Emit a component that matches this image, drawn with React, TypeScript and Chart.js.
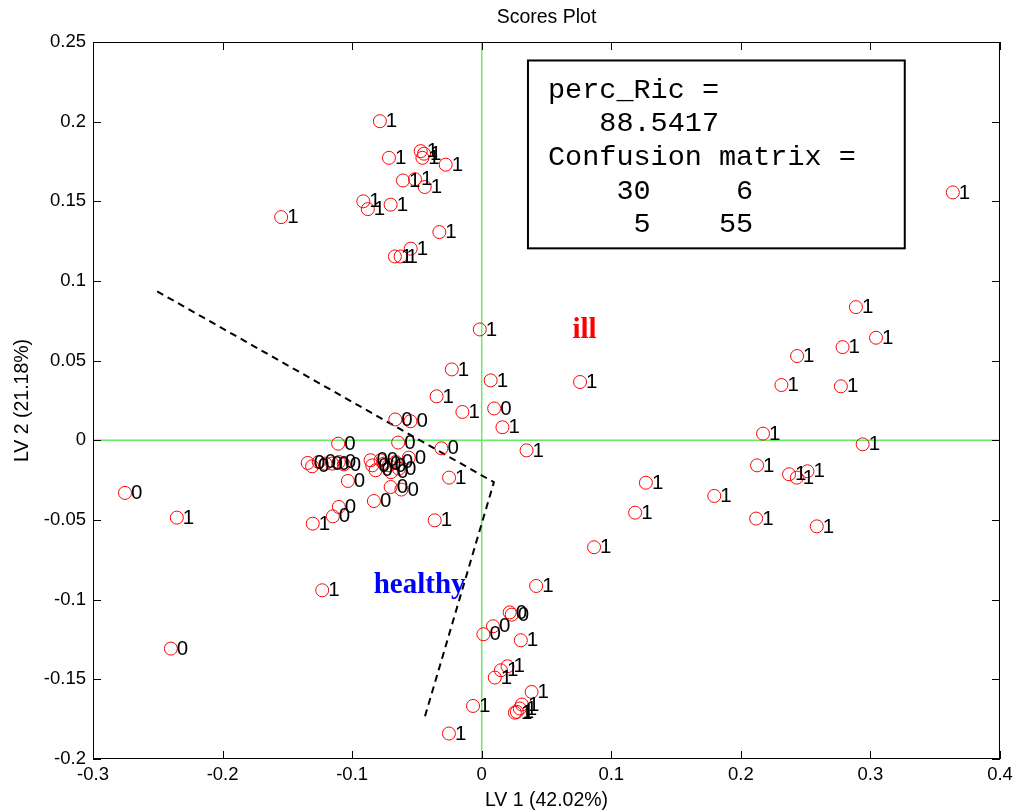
import React, { useEffect, useRef } from 'react';
import { Chart, registerables } from 'chart.js';

Chart.register(...registerables);

// Class "0" (healthy) scores
const class0X = [
  0.0216, 0.0232, 0.0087, 0.0013,
  -0.2753, -0.2399, -0.1149, -0.1103, -0.1033,
  -0.0667, -0.0550, -0.1108, -0.0645, -0.0311, -0.0563, 0.0096, -0.0703, -0.0620, -0.0832,
  -0.1343, -0.1309, -0.1258, -0.1206, -0.1154, -0.1103, -0.1064,
  -0.0858, -0.0845, -0.0819, -0.0780, -0.0755, -0.0716, -0.0664, -0.0639, -0.0700,
];
const class0Y = [
  -0.1080, -0.1094, -0.1167, -0.1217,
  -0.0330, -0.1307, -0.0477, -0.0418, -0.0255,
  0.0131, 0.0120, -0.0021, -0.0014, -0.0050, -0.0109, 0.0200, -0.0293, -0.0309, -0.0381,
  -0.0142, -0.0163, -0.0136, -0.0146, -0.0146, -0.0136, -0.0151,
  -0.0125, -0.0157, -0.0188, -0.0125, -0.0146, -0.0157, -0.0136, -0.0178, -0.0200,
];

// Class "1" (ill) scores
const class1X = [
  -0.0786, -0.0716, -0.0471, -0.0445, -0.0458, -0.0278, -0.0608, -0.0515, -0.0440,
  -0.0914, -0.0879, -0.0703, -0.1548, -0.0327, -0.0548, -0.0670, -0.0626,
  0.2888, 0.3043, 0.2785, 0.2434, 0.0759, 0.2313, 0.2772, 0.2171, 0.2940, 0.2125,
  0.2372, 0.2432, 0.2514, 0.1267, 0.1795, 0.1184, 0.2118, 0.2586, 0.3636, 0.0867,
  0.0420, 0.0302, 0.0199, 0.0148, 0.0101, 0.0385, -0.0067, 0.0310, 0.0294, 0.0271, 0.0256, -0.0253,
  -0.2353, -0.1304, -0.1231,
  -0.0348, -0.0149, -0.0252, -0.0363, -0.0015, -0.0231, 0.0069, 0.0160, 0.0346,
];
const class1Y = [
  0.2003, 0.1773, 0.1815, 0.1799, 0.1773, 0.1730, 0.1631, 0.1639, 0.1590,
  0.1500, 0.1451, 0.1479, 0.1401, 0.1307, 0.1203, 0.1154, 0.1154,
  0.0836, 0.0644, 0.0585, 0.0529, 0.0366, 0.0347, 0.0339, 0.0042, -0.0025, -0.0157,
  -0.0213, -0.0234, -0.0194, -0.0266, -0.0349, -0.0454, -0.0491, -0.0540, 0.1556, -0.0671,
  -0.0914, -0.1255, -0.1418, -0.1443, -0.1489, -0.1579, -0.1667, -0.1658, -0.1683, -0.1704, -0.1709, -0.1840,
  -0.0485, -0.0523, -0.0941,
  0.0276, 0.0178, -0.0234, -0.0502, 0.0696, 0.0445, 0.0376, 0.0082, -0.0063,
];

const pointLabels = ['0', '1'];

// Discriminant boundary (dashed)
const boundaryX = [-0.2505, 0.0094, -0.0440];
const boundaryY = [0.0935, -0.0263, -0.1738];

const xTicks = [-0.3, -0.2, -0.1, 0, 0.1, 0.2, 0.3, 0.4];
const xTickLabels = ['-0.3', '-0.2', '-0.1', '0', '0.1', '0.2', '0.3', '0.4'];
const yTicks = [-0.2, -0.15, -0.1, -0.05, 0, 0.05, 0.1, 0.15, 0.2, 0.25];
const yTickLabels = ['-0.2', '-0.15', '-0.1', '-0.05', '0', '0.05', '0.1', '0.15', '0.2', '0.25'];

const titleText = 'Scores Plot';
const xTitle = 'LV 1 (42.02%)';
const yTitle = 'LV 2 (21.18%)';
const infoLines = ['perc_Ric =', '   88.5417', 'Confusion matrix =', '    30     6', '     5    55'];
const regionNames = ['ill', 'healthy'];
const regionX = [0.0793, -0.0479];
const regionY = [0.0687, -0.0913];
const regionColors = ['#ff0000', '#0000ff'];

const SANS = '"Liberation Sans", Arial, sans-serif';

const lookup = (vals: number[], labels: string[], v: number) => {
  const i = vals.findIndex((t) => Math.abs(t - v) < 1e-9);
  return i >= 0 ? labels[i] : '';
};

const overlayPlugin = {
  id: 'overlay',
  beforeDatasetsDraw(chart: any) {
    const { ctx, chartArea: a, scales } = chart;
    const x = scales.x;
    const y = scales.y;
    ctx.save();
    ctx.strokeStyle = 'rgb(100,236,100)';
    ctx.lineWidth = 1.5;
    const x0 = x.getPixelForValue(0);
    const y0 = y.getPixelForValue(0);
    ctx.beginPath();
    ctx.moveTo(x0, a.top);
    ctx.lineTo(x0, a.bottom);
    ctx.moveTo(a.left, y0);
    ctx.lineTo(a.right, y0);
    ctx.stroke();
    ctx.restore();
  },
  afterDatasetsDraw(chart: any) {
    const { ctx, chartArea: a, scales } = chart;
    const x = scales.x;
    const y = scales.y;
    ctx.save();

    // point labels
    ctx.fillStyle = '#000';
    ctx.font = `20.5px ${SANS}`;
    ctx.textAlign = 'left';
    ctx.textBaseline = 'middle';
    [0, 1].forEach((di) => {
      const meta = chart.getDatasetMeta(di);
      meta.data.forEach((el: any) => {
        ctx.fillText(pointLabels[di], el.x + 6, el.y + 0.5);
      });
    });

    // region labels
    ctx.font = `bold 29px "Liberation Serif", "Times New Roman", serif`;
    ctx.textAlign = 'center';
    ctx.textBaseline = 'middle';
    regionNames.forEach((name, i) => {
      ctx.fillStyle = regionColors[i];
      ctx.fillText(name, x.getPixelForValue(regionX[i]), y.getPixelForValue(regionY[i]));
    });

    // info box
    const bl = x.getPixelForValue(0.0357);
    const br = x.getPixelForValue(0.3265);
    const bt = y.getPixelForValue(0.2384);
    const bb = y.getPixelForValue(0.1205);
    ctx.fillStyle = '#fff';
    ctx.fillRect(bl, bt, br - bl, bb - bt);
    ctx.strokeStyle = '#000';
    ctx.lineWidth = 2;
    ctx.strokeRect(bl, bt, br - bl, bb - bt);
    ctx.fillStyle = '#000';
    ctx.font = `28.5px "Liberation Mono", "Courier New", monospace`;
    ctx.textAlign = 'left';
    ctx.textBaseline = 'middle';
    const offs = [30, 63, 97, 131, 164];
    infoLines.forEach((ln, i) => {
      ctx.fillText(ln, bl + 20, bt + offs[i]);
    });

    // frame
    ctx.strokeStyle = '#000';
    ctx.lineWidth = 1;
    ctx.strokeRect(a.left + 0.5, a.top + 0.5, a.right - a.left - 1, a.bottom - a.top - 1);
    // inside ticks
    const tl = 8;
    ctx.beginPath();
    xTicks.forEach((v) => {
      const px = Math.round(x.getPixelForValue(v)) + 0.5;
      ctx.moveTo(px, a.bottom);
      ctx.lineTo(px, a.bottom - tl);
      ctx.moveTo(px, a.top);
      ctx.lineTo(px, a.top + tl);
    });
    yTicks.forEach((v) => {
      const py = Math.round(y.getPixelForValue(v)) + 0.5;
      ctx.moveTo(a.left, py);
      ctx.lineTo(a.left + tl, py);
      ctx.moveTo(a.right, py);
      ctx.lineTo(a.right - tl, py);
    });
    ctx.stroke();

    // title
    ctx.font = `19.5px ${SANS}`;
    ctx.textAlign = 'center';
    ctx.textBaseline = 'middle';
    ctx.fillText(titleText, (a.left + a.right) / 2, 18);

    ctx.restore();
  },
};

export default function App() {
  const ref = useRef<HTMLCanvasElement | null>(null);

  useEffect(() => {
    document.body.style.margin = '0';
    const canvas = ref.current;
    if (!canvas) return;
    const pointStyle = {
      pointStyle: 'circle',
      pointRadius: 6.5,
      pointBorderWidth: 1,
      pointBorderColor: '#ff0000',
      pointBackgroundColor: 'rgba(0,0,0,0)',
      showLine: false,
    };
    const chart = new Chart(canvas, {
      type: 'scatter',
      data: {
        datasets: [
          {
            label: pointLabels[0],
            data: class0X.map((v, i) => ({ x: v, y: class0Y[i] })),
            ...pointStyle,
          } as any,
          {
            label: pointLabels[1],
            data: class1X.map((v, i) => ({ x: v, y: class1Y[i] })),
            ...pointStyle,
          } as any,
          {
            label: 'boundary',
            data: boundaryX.map((v, i) => ({ x: v, y: boundaryY[i] })),
            showLine: true,
            borderColor: '#000',
            borderWidth: 2,
            borderDash: [7, 5],
            pointRadius: 0,
            fill: false,
          } as any,
        ],
      },
      options: {
        animation: false,
        responsive: false,
        devicePixelRatio: 1,
        layout: { padding: { top: 42, right: 15, left: 0, bottom: 0 } },
        plugins: {
          legend: { display: false },
          title: { display: false },
          tooltip: { enabled: false },
        },
        scales: {
          x: {
            type: 'linear',
            min: -0.3,
            max: 0.4,
            afterBuildTicks: (s: any) => {
              s.ticks = xTicks.map((v) => ({ value: v }));
            },
            afterFit: (s: any) => {
              s.height = 53;
              s.paddingRight = 0;
            },
            grid: { display: false, drawTicks: false },
            border: { display: false },
            ticks: {
              color: '#000',
              font: { family: SANS, size: 18.5 },
              padding: 5,
              maxRotation: 0,
              callback: (v: any) => lookup(xTicks, xTickLabels, Number(v)),
            },
            title: {
              display: true,
              text: xTitle,
              color: '#000',
              font: { family: SANS, size: 19.5 },
              padding: { top: 0, bottom: 0 },
            },
          },
          y: {
            type: 'linear',
            min: -0.2,
            max: 0.25,
            afterBuildTicks: (s: any) => {
              s.ticks = yTicks.map((v) => ({ value: v }));
            },
            afterFit: (s: any) => {
              s.width = 93;
            },
            grid: { display: false, drawTicks: false },
            border: { display: false },
            ticks: {
              color: '#000',
              font: { family: SANS, size: 18.5 },
              padding: 7,
              callback: (v: any) => lookup(yTicks, yTickLabels, Number(v)),
            },
            title: {
              display: true,
              text: yTitle,
              color: '#000',
              font: { family: SANS, size: 19.5 },
              padding: { top: 11, bottom: 0 },
            },
          },
        },
      },
      plugins: [overlayPlugin],
    });
    return () => chart.destroy();
  }, []);

  return (
    <div style={{ width: 1015, height: 812, background: '#fff' }}>
      <canvas ref={ref} width={1015} height={812} />
    </div>
  );
}
